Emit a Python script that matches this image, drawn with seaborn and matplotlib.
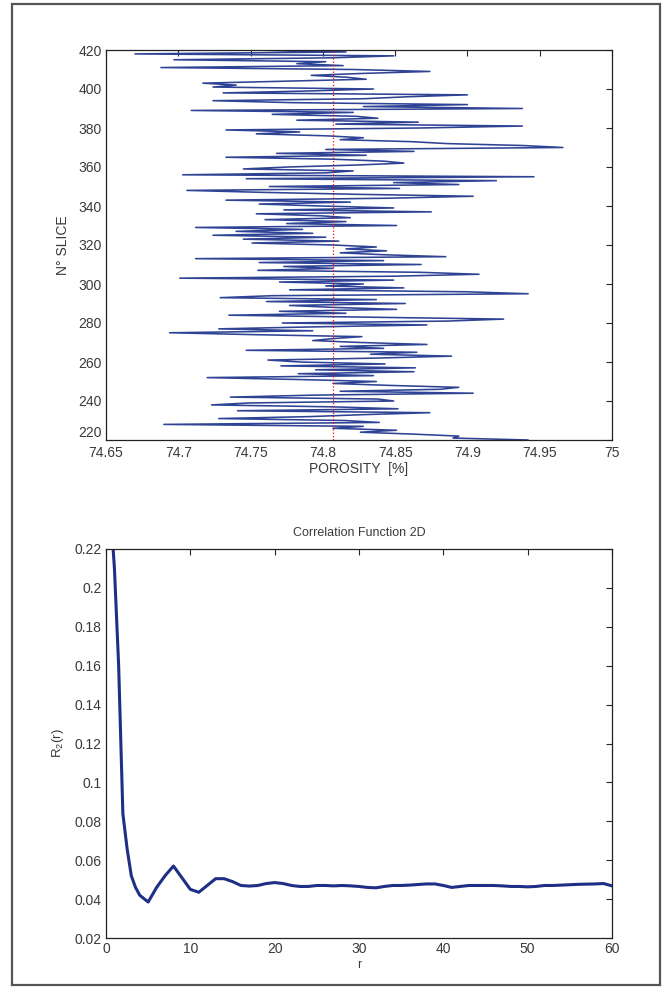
import matplotlib
matplotlib.use('Agg')
import matplotlib.pyplot as plt
from matplotlib.patches import Rectangle
from matplotlib.ticker import FormatStrFormatter
import numpy as np
import seaborn as sns

# ── data: porosity per slice, listed from slice 420 down to slice 220 ─────────
slice_top = 420
slice_bottom = 220
porosity = [
    74.749, 74.816, 74.670, 74.849, 74.807, 74.697, 74.802, 74.782, 74.814, 74.688,
    74.821, 74.874, 74.828, 74.792, 74.817, 74.830, 74.775, 74.717, 74.740, 74.724,
    74.835, 74.791, 74.731, 74.900, 74.858, 74.828, 74.724, 74.779, 74.900, 74.828,
    74.938, 74.709, 74.821, 74.765, 74.823, 74.838, 74.782, 74.866, 74.809, 74.938,
    74.867, 74.733, 74.784, 74.754, 74.802, 74.828, 74.812, 74.861, 74.886, 74.939,
    74.966, 74.802, 74.863,
    74.768, 74.830, 74.733, 74.807, 74.842, 74.856, 74.823, 74.776, 74.745, 74.821,
    74.802, 74.703, 74.946, 74.747, 74.920, 74.849, 74.894, 74.763, 74.853, 74.706,
    74.758, 74.823, 74.904, 74.846, 74.733, 74.819, 74.756, 74.799, 74.849, 74.773,
    74.875, 74.754, 74.798, 74.819, 74.760, 74.816, 74.775, 74.851, 74.712, 74.786,
    74.740, 74.793, 74.724, 74.802, 74.745, 74.811, 74.751, 74.807, 74.837, 74.816,
    74.844,
    74.812, 74.842, 74.885, 74.712, 74.842, 74.756, 74.868, 74.773, 74.807, 74.755,
    74.867, 74.908, 74.849, 74.701, 74.849, 74.770, 74.828, 74.802, 74.856, 74.777,
    74.900, 74.942, 74.765, 74.729, 74.837, 74.761, 74.857, 74.777, 74.807, 74.851,
    74.770, 74.816, 74.735, 74.830, 74.925, 74.887, 74.772, 74.872, 74.793, 74.728,
    74.793, 74.694, 74.754, 74.827, 74.807, 74.793, 74.826, 74.872, 74.812, 74.842,
    74.747,
    74.865, 74.833, 74.889, 74.837, 74.762, 74.784, 74.843, 74.771, 74.864, 74.795,
    74.863, 74.783, 74.835, 74.720, 74.784, 74.837, 74.807, 74.846, 74.894, 74.881,
    74.812, 74.904, 74.793, 74.736, 74.838, 74.849, 74.749, 74.723, 74.807, 74.852,
    74.741, 74.874, 74.828, 74.791, 74.728, 74.815, 74.839,
    74.690, 74.828, 74.807, 74.851, 74.826, 74.863, 74.894, 74.890, 74.942,
]
slices = np.arange(slice_top, slice_bottom - 1, -1)
mean_porosity = 74.807

porosity_ticks = [74.65, 74.7, 74.75, 74.8, 74.85, 74.9, 74.95, 75]
slice_ticks = list(range(220, 421, 20))

# ── data: 2D correlation function ─────────────────────────────────────────────
r_vals = [0, 1, 1.5, 2, 2.5, 3, 3.5, 4, 5, 6, 7, 8, 9, 10, 11, 12, 13, 14, 15,
          16, 17, 18, 19, 20, 21, 22, 23, 24, 25, 26, 27, 28, 29, 30, 31, 32,
          33, 34, 35, 36, 37, 38, 39, 40, 41, 42, 43, 44, 45, 46, 47, 48, 49,
          50, 51, 52, 53, 54, 55, 56, 57, 58, 59, 60]
r2_vals = [0.275, 0.21, 0.16, 0.084, 0.066, 0.052, 0.046, 0.042, 0.0385, 0.046,
           0.052, 0.057, 0.051, 0.045, 0.0435, 0.047, 0.0505, 0.0505, 0.049,
           0.047, 0.0467, 0.047, 0.048, 0.0485, 0.048, 0.047, 0.0465, 0.0465,
           0.047, 0.047, 0.0468, 0.047, 0.0468, 0.0465, 0.046, 0.0458, 0.0465,
           0.047, 0.047, 0.0472, 0.0475, 0.0478, 0.0478, 0.047, 0.046, 0.0465,
           0.047, 0.047, 0.047, 0.047, 0.0468, 0.0465, 0.0465, 0.0463, 0.0465,
           0.047, 0.047, 0.0472, 0.0474, 0.0476, 0.0477, 0.0478, 0.048, 0.0468]
r_ticks = list(range(0, 61, 10))
r2_ticks = [0.02, 0.04, 0.06, 0.08, 0.1, 0.12, 0.14, 0.16, 0.18, 0.2, 0.22]

sns.set_style('white')
plt.rcParams['font.family'] = ['Liberation Sans', 'DejaVu Sans']
plt.rcParams['mathtext.default'] = 'regular'

TXT = '#3a3a3a'
NAVY = '#1f2f85'

fig = plt.figure(figsize=(6.71, 9.89), dpi=100)
fig.patches.append(Rectangle((12 / 671, 4 / 989), 648 / 671, 981 / 989,
                             transform=fig.transFigure, fill=False,
                             edgecolor='#555555', linewidth=1.6))

ax1 = fig.add_axes([106 / 671, 1 - 440 / 989, 506 / 671, 390 / 989])
ax2 = fig.add_axes([106 / 671, 1 - 938 / 989, 506 / 671, 389 / 989])

# ── top: porosity along the slices ────────────────────────────────────────────
sns.lineplot(x=porosity, y=slices, sort=False, estimator=None, ax=ax1,
             color='#2f4395', linewidth=1.15)
ax1.axvline(mean_porosity, color='red', linestyle=':', linewidth=0.9)
ax1.set_xlim(74.65, 75)
ax1.set_ylim(220, 420)
ax1.set_xticks(porosity_ticks)
ax1.set_yticks(slice_ticks)
ax1.xaxis.set_major_formatter(FormatStrFormatter('%g'))
ax1.set_xlabel('POROSITY  [%]', fontsize=10, color=TXT, labelpad=2)
ax1.set_ylabel('N° SLICE', fontsize=10, color=TXT, labelpad=6)

# ── bottom: correlation function ──────────────────────────────────────────────
sns.lineplot(x=r_vals, y=r2_vals, ax=ax2, color=NAVY, linewidth=2.2)
ax2.set_xlim(0, 60)
ax2.set_ylim(0.02, 0.22)
ax2.set_xticks(r_ticks)
ax2.set_yticks(r2_ticks)
ax2.yaxis.set_major_formatter(FormatStrFormatter('%g'))
ax2.set_title('Correlation Function 2D', fontsize=9, color=TXT, pad=9)
ax2.set_xlabel('r', fontsize=9, color=TXT, labelpad=2)
ax2.set_ylabel('R$_2$(r)', fontsize=9.5, color=TXT, labelpad=6)

for ax in (ax1, ax2):
    ax.tick_params(direction='in', top=True, right=True, length=4, width=0.8,
                   labelsize=10, labelcolor=TXT, pad=3)
    for sp in ax.spines.values():
        sp.set_color('#222222')
        sp.set_linewidth(0.9)

# lowest slice label sits just above the porosity labels, as in the source
ax1.get_yticklabels()[0].set_verticalalignment('bottom')
ax1.tick_params(axis='x', pad=4)

fig.savefig('out.png', dpi=100)
